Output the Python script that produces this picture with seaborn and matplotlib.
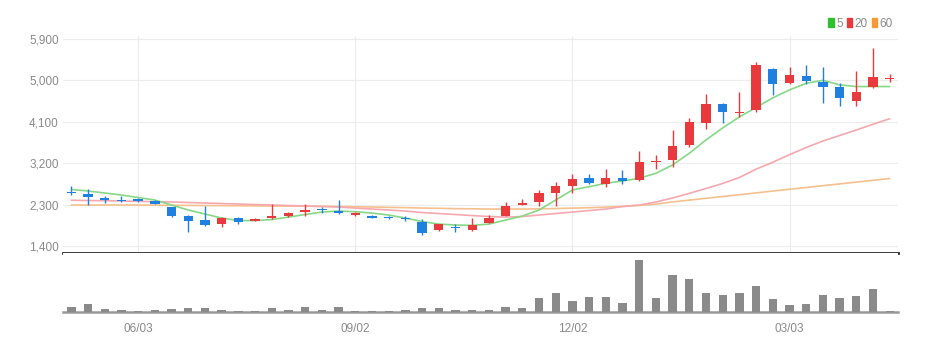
import matplotlib
matplotlib.use("Agg")
import matplotlib.pyplot as plt
import seaborn as sns
import pandas as pd
from matplotlib.patches import Patch

# weekly candles
weeks = pd.date_range("2024-05-06", periods=50, freq="7D")
tick_dates = ["2024-06-03", "2024-09-02", "2024-12-02", "2025-03-03"]
price_ticks = [1400, 2300, 3200, 4100, 5000, 5900]

open_ = [2580, 2530, 2440, 2400, 2420, 2380, 2240, 2060, 1960, 1870,
         2000, 1950, 2000, 2060, 2130, 2210, 2160, 2070, 2060, 2040,
         2010, 1930, 1740, 1810, 1750, 1910, 2060, 2300, 2350, 2550,
         2700, 2870, 2740, 2880, 2840, 3230, 3270, 3600, 4070, 4490,
         4290, 4360, 5250, 4940, 5100, 4970, 4860, 4540, 4860, 5030]
close = [2550, 2460, 2400, 2370, 2380, 2320, 2050, 1950, 1850, 2000,
         1930, 1985, 2050, 2110, 2190, 2180, 2120, 2110, 2020, 2000,
         1995, 1690, 1870, 1800, 1860, 2020, 2280, 2320, 2560, 2700,
         2860, 2780, 2880, 2820, 3230, 3250, 3580, 4100, 4490, 4320,
         4310, 5320, 4920, 5120, 4990, 4860, 4620, 4740, 5080, 5050]
high = [2700, 2640, 2490, 2490, 2440, 2390, 2250, 2070, 2280, 2040,
        2030, 2010, 2310, 2140, 2310, 2250, 2410, 2130, 2080, 2060,
        2060, 1980, 1880, 1880, 2000, 2080, 2360, 2420, 2620, 2800,
        2960, 2960, 3070, 3050, 3470, 3380, 3920, 4190, 4700, 4500,
        4750, 5390, 5260, 5290, 5330, 5280, 4950, 5190, 5700, 5130]
low = [2500, 2290, 2330, 2360, 2360, 2310, 2030, 1710, 1830, 1810,
       1880, 1940, 1980, 2030, 2060, 2110, 2100, 2050, 2000, 1990,
       1950, 1640, 1720, 1700, 1730, 1900, 2050, 2300, 2260, 2260,
       2550, 2750, 2680, 2740, 2810, 3070, 3110, 3560, 3940, 4070,
       4210, 4310, 4680, 4920, 4920, 4500, 4430, 4440, 4830, 4960]
volume = [500, 840, 270, 170, 70, 200, 270, 370, 440, 200,
          100, 100, 370, 200, 500, 200, 500, 70, 100, 100,
          200, 370, 370, 240, 170, 240, 540, 400, 1440, 1900,
          1100, 1500, 1500, 940, 5170, 1440, 3740, 3340, 1900, 1740,
          1900, 2570, 1300, 700, 800, 1670, 1440, 1640, 2340, 100]

ma5 = [2628, 2596, 2552, 2509, 2454, 2400, 2291, 2183, 2096, 2009,
       1954, 1954, 1976, 2030, 2085, 2139, 2161, 2146, 2117, 2074,
       2009, 1933, 1878, 1857, 1850, 1878, 1965, 2052, 2183, 2400,
       2617, 2689, 2763, 2813, 2872, 2980, 3161, 3415, 3704, 3965,
       4204, 4410, 4617, 4791, 4933, 4998, 4900, 4863, 4863, 4863]
ma20 = [2394, 2389, 2385, 2378, 2372, 2363, 2357, 2346, 2335, 2324,
        2313, 2302, 2291, 2280, 2270, 2259, 2248, 2226, 2204, 2183,
        2161, 2128, 2107, 2085, 2063, 2041, 2030, 2041, 2074, 2107,
        2139, 2172, 2204, 2259, 2291, 2357, 2444, 2545, 2650, 2760,
        2890, 3070, 3220, 3385, 3540, 3680, 3800, 3920, 4045, 4165]
ma60 = [2291, 2291, 2291, 2291, 2291, 2287, 2285, 2283, 2280, 2278,
        2276, 2274, 2270, 2267, 2265, 2263, 2259, 2254, 2248, 2241,
        2235, 2226, 2220, 2213, 2209, 2204, 2204, 2204, 2209, 2215,
        2224, 2233, 2246, 2261, 2283, 2311, 2359, 2398, 2437, 2476,
        2515, 2554, 2594, 2633, 2672, 2711, 2750, 2789, 2828, 2867]

UP, DOWN = "#e8393c", "#1f80e0"
GRAY = "#8a8a8a"

sns.set_style("white")
plt.rcParams["font.family"] = ["Liberation Sans Narrow", "Liberation Sans", "DejaVu Sans"]

df = pd.DataFrame({"week": weeks, "open": open_, "close": close,
                   "high": high, "low": low, "volume": volume,
                   "MA5": ma5, "MA20": ma20, "MA60": ma60})
df["idx"] = range(len(df))
df["color"] = [UP if c >= o else DOWN for o, c in zip(df["open"], df["close"])]

tick_idx = [int(i) for i in weeks.get_indexer(pd.to_datetime(tick_dates))]
tick_labels = [pd.Timestamp(d).strftime("%m/%d") for d in tick_dates]

fig = plt.figure(figsize=(9.39, 3.51), dpi=100)
ax = fig.add_axes([0.0671, 0.2792, 0.8893, 0.6182])
axv = fig.add_axes([0.0671, 0.1111, 0.8893, 0.1681], sharex=ax)

# moving averages
for col, c in [("MA60", "#f5c08e"), ("MA20", "#f5a8ae"), ("MA5", "#86d886")]:
    sns.lineplot(data=df, x="idx", y=col, color=c, lw=1.2, ax=ax, zorder=2)

# candles
ax.vlines(df["idx"], df["low"], df["high"], colors=df["color"], lw=1, zorder=3)
body = (df["close"] - df["open"]).abs().clip(lower=25)
bottom = df[["open", "close"]].min(axis=1)
ax.bar(df["idx"], body, bottom=bottom, width=0.56, color=df["color"], lw=0, zorder=4)

ax.set_ylim(1250, 5960)
ax.set_xlim(-0.5, 49.5)
ax.set_yticks(price_ticks)
ax.set_yticklabels([f"{v:,}" for v in price_ticks])
ax.set_xticks(tick_idx)
ax.tick_params(axis="x", length=0, labelbottom=False)
ax.tick_params(axis="y", length=0, pad=3, labelsize=8.5, labelcolor=GRAY)
ax.grid(True, color="#ececec", lw=0.8)
ax.set_xlabel("")
ax.set_ylabel("")
for s in ["top", "right", "left"]:
    ax.spines[s].set_visible(False)
ax.spines["bottom"].set_color("#2b2b2b")
ax.spines["bottom"].set_linewidth(2)

handles = [Patch(color="#2fbf2f", label="5"), Patch(color=UP, label="20"),
           Patch(color="#f39a3a", label="60")]
ax.legend(handles=handles, loc="lower right", bbox_to_anchor=(1.002, 0.995), ncol=3,
          frameon=False, fontsize=8.5, labelcolor=GRAY, handlelength=0.45,
          handleheight=0.8, handletextpad=0.2, columnspacing=0.35, borderpad=0.1)

# volume
axv.bar(df["idx"], df["volume"], width=0.5, color=GRAY, lw=0, zorder=3)
axv.set_ylim(0, 5900)
axv.set_yticks([])
axv.set_xticks(tick_idx)
axv.set_xticklabels(tick_labels)
axv.tick_params(axis="x", length=4, width=1, color="#222222", pad=4,
                labelsize=8.5, labelcolor=GRAY)
for s in ["top", "right", "left"]:
    axv.spines[s].set_visible(False)
axv.spines["bottom"].set_color("#999999")
axv.spines["bottom"].set_linewidth(1.8)

fig.savefig("out.png", dpi=100)
